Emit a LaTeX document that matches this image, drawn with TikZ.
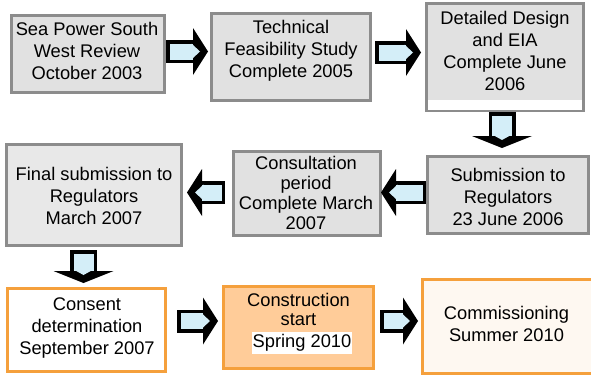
\documentclass[tikz,border=0pt]{standalone}
\usepackage{fontspec}
\setmainfont{Liberation Sans}
\usetikzlibrary{positioning}

\definecolor{boxgray}{HTML}{E1E1E1}
\definecolor{edgegray}{HTML}{8C8C8C}
\definecolor{edgeorange}{HTML}{F5A03C}
\definecolor{peach}{HTML}{FFCC99}
\definecolor{arrowblue}{HTML}{D4EEF8}

\tikzset{
  graybox/.style={draw=edgegray,fill=boxgray,line width=3pt,inner sep=0pt},
  orangebox/.style={draw=edgeorange,fill=white,line width=3pt,inner sep=0pt},
  txt/.style={font=\fontsize{18.3}{22}\selectfont,align=center,inner sep=0pt},
  pics/fatarrow/.style={code={
    \fill[black] (#1-15,-23.5) -- (#1,0) -- (#1-15,23.5) -- cycle;
    \filldraw[fill=arrowblue,draw=black,line width=3.5pt]
      (#1-15,-9.75) -- (1.75,-9.75) -- (1.75,9.75) -- (#1-15,9.75);
    \fill[arrowblue] (#1-16.5,-7.9) -- (#1-8,0) -- (#1-16.5,7.9) -- cycle;
  }},
  pics/droparrow/.style={code={
    \fill[black] (#1-12,-30) -- (#1,0) -- (#1-12,30) -- cycle;
    \filldraw[fill=arrowblue,draw=black,line width=3.5pt]
      (#1-12,-11.75) -- (1.75,-11.75) -- (1.75,11.75) -- (#1-12,11.75);
    \fill[arrowblue] (#1-13.5,-9.9) -- (#1-8,0) -- (#1-13.5,9.9) -- cycle;
  }}
}

\begin{document}
\begin{tikzpicture}[x=1pt,y=-1pt]
  \useasboundingbox (0,0) rectangle (591,375);

  % top row
  \node[graybox,minimum width=153,minimum height=77] (review) at (88,54) {};
  \node[graybox,minimum width=159,minimum height=87] (feasib) at (291,57) {};
  \node[graybox,minimum width=157,minimum height=107] (design) at (505,57) {};
  \fill[white] (428,100) rectangle (582,110);
  \node[txt] (reviewtxt) at (87,51) {Sea Power South\\West Review\\October 2003};
  \node[txt] (feasibtxt) at (291,51) {Technical\\Feasibility Study\\Complete 2005};
  \node[txt] (designtxt) at (505,51) {Detailed Design\\and EIA\\Complete June\\2006};

  % middle row
  \node[graybox,minimum width=161,minimum height=77] (submit) at (508,195) {};
  \node[graybox,minimum width=147,minimum height=84] (consult) at (307,193.5) {};
  \node[graybox,fill=boxgray!75,minimum width=175,minimum height=101] (final) at (94,195) {};
  \node[txt] (submittxt) at (508,197) {Submission to\\Regulators\\23 June 2006};
  \node[txt,font=\fontsize{18.3}{20}\selectfont] (consulttxt) at (306,193) {Consultation\\period\\Complete March\\2007};
  \node[txt] (finaltxt) at (94,196) {Final submission to\\Regulators\\March 2007};

  % bottom row
  \node[orangebox,minimum width=158,minimum height=83] (consent) at (86.5,330) {};
  \node[orangebox,fill=peach,minimum width=150,minimum height=82] (build) at (298.5,327.5) {};
  \node[orangebox,fill=edgeorange!7,minimum width=170,minimum height=94] (commission) at (507,326.5) {};
  \node[txt] (consenttxt) at (87,328) {Consent\\determination\\September 2007};
  \node[txt,font=\fontsize{18.3}{19.5}\selectfont] (buildtxt) at (298.5,309.5) {Construction\\start};
  \node[txt,fill=white,inner xsep=1pt,inner ysep=2.5pt] (springtxt) at (302,343) {Spring 2010};
  \node[txt] (commissiontxt) at (506.5,324) {Commissioning\\Summer 2010};

  % block arrows
  \pic at ([yshift=2.5pt]review.east) {fatarrow=42};
  \pic at ([xshift=3pt,yshift=4.5pt]feasib.east) {fatarrow=46};
  \pic[rotate=-90] at ([xshift=-3pt]design.south) {droparrow=36};
  \pic[rotate=180] at ([yshift=2.5pt]submit.west) {fatarrow=45};
  \pic[rotate=180] at ([xshift=-7pt,yshift=1pt]consult.west) {fatarrow=38};
  \pic[rotate=-90] at ([xshift=-10.5pt,yshift=-3pt]final.south) {droparrow=33};
  \pic at ([xshift=10pt,yshift=9pt]consent.east) {fatarrow=41};
  \pic at ([xshift=5pt,yshift=6.5pt]build.east) {fatarrow=38};
\end{tikzpicture}
\end{document}
